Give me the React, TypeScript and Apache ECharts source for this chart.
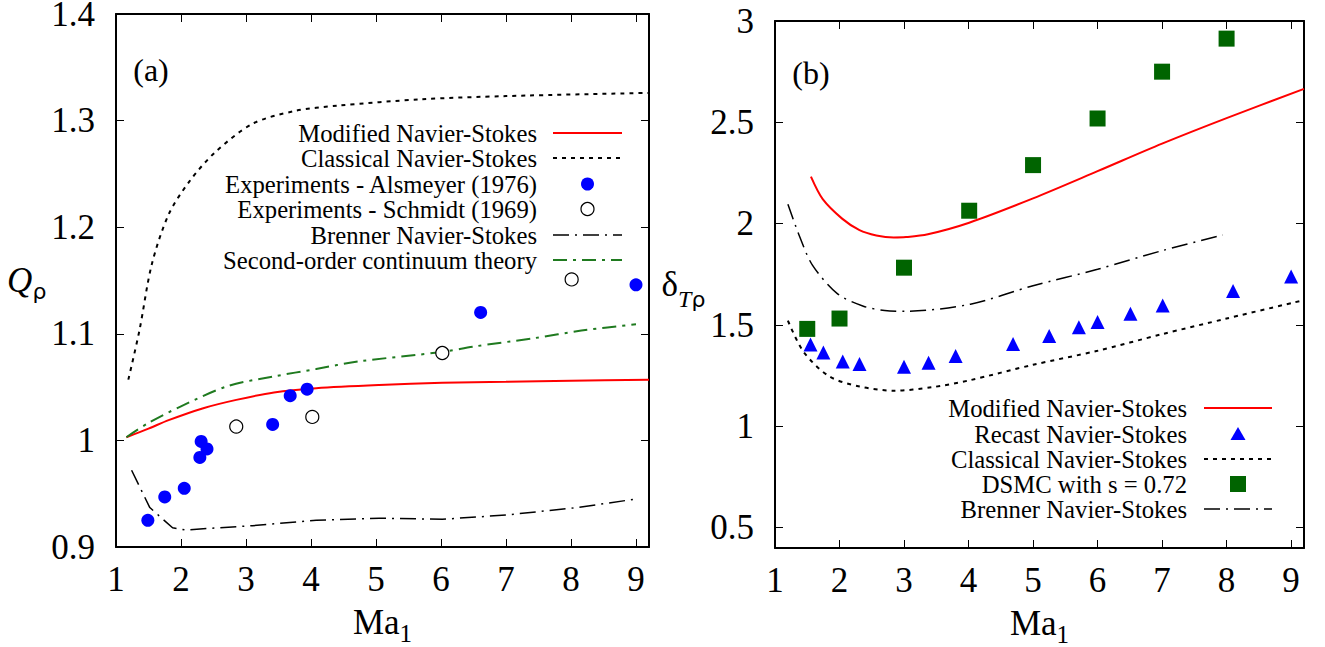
import React, { useEffect, useRef } from "react";
import * as echarts from "echarts";

// ---------- data (panel a) ----------
const xTicks = [1, 2, 3, 4, 5, 6, 7, 8, 9];
const yTicksA = [0.9, 1.0, 1.1, 1.2, 1.3, 1.4];
const yTicksB = [0.5, 1.0, 1.5, 2.0, 2.5, 3.0];

const modifiedNS_a = [[1.16, 1.003], [1.5, 1.011], [1.81, 1.019], [2.33, 1.030], [2.85, 1.038], [3.43, 1.045], [4.08, 1.049], [5.05, 1.052], [6.02, 1.054], [7.0, 1.055], [8.0, 1.056], [9.2, 1.057]];
const classicalNS_a = [[1.19, 1.057], [1.36, 1.103], [1.55, 1.165], [1.81, 1.212], [2.13, 1.243], [2.52, 1.27], [3.1, 1.297], [3.75, 1.309], [4.4, 1.314], [5.7, 1.32], [7.0, 1.323], [9.2, 1.326]];
const alsmeyer_a = [[1.49, 0.925], [1.75, 0.947], [2.05, 0.955], [2.29, 0.984], [2.31, 0.999], [2.4, 0.992], [3.41, 1.015], [3.68, 1.042], [3.94, 1.048], [6.61, 1.12], [9.0, 1.146]];
const schmidt_a = [[2.85, 1.013], [4.02, 1.022], [6.02, 1.082], [8.01, 1.151]];
const brennerNS_a = [[1.24, 0.972], [1.52, 0.937], [1.87, 0.918], [2.07, 0.916], [3.1, 0.92], [4.08, 0.925], [5.05, 0.927], [6.02, 0.926], [7.0, 0.93], [8.09, 0.937], [9.0, 0.945]];
const secondOrder_a = [[1.16, 1.003], [1.49, 1.016], [2.0, 1.032], [2.72, 1.051], [3.43, 1.06], [4.08, 1.067], [4.72, 1.074], [6.02, 1.083], [6.5, 1.088], [7.44, 1.096], [8.16, 1.103], [9.0, 1.109]];

// ---------- data (panel b) ----------
const modifiedNS_b = [[1.557, 2.232], [1.74, 2.121], [2.04, 2.025], [2.31, 1.968], [2.57, 1.942], [2.84, 1.932], [3.03, 1.934], [3.37, 1.948], [4.01, 2.005], [5.0, 2.125], [6.0, 2.259], [7.0, 2.395], [8.0, 2.521], [9.2, 2.665]];
const recastNS_b = [[1.55, 1.404], [1.75, 1.365], [2.05, 1.32], [2.31, 1.308], [3.0, 1.294], [3.38, 1.314], [3.8, 1.347], [4.69, 1.406], [5.25, 1.446], [5.71, 1.489], [6.0, 1.515], [6.51, 1.556], [7.01, 1.597], [8.1, 1.668], [9.0, 1.739]];
const classicalNS_b = [[1.2, 1.522], [1.44, 1.369], [1.84, 1.247], [2.31, 1.197], [2.84, 1.176], [3.43, 1.193], [4.01, 1.227], [5.0, 1.304], [6.0, 1.373], [7.0, 1.455], [8.0, 1.532], [9.2, 1.623]];
const dsmc_b = [[1.5, 1.481], [2.0, 1.532], [3.0, 1.783], [4.01, 2.064], [5.0, 2.289], [6.0, 2.519], [7.0, 2.75], [8.0, 2.913]];
const brennerNS_b = [[1.2, 2.096], [1.38, 1.938], [1.58, 1.796], [1.97, 1.654], [2.37, 1.593], [2.7, 1.572], [3.03, 1.568], [4.03, 1.603], [5.0, 1.694], [6.0, 1.775], [7.0, 1.867], [7.94, 1.944]];

const legendA = ["Modified Navier-Stokes", "Classical Navier-Stokes", "Experiments - Alsmeyer (1976)", "Experiments - Schmidt (1969)", "Brenner Navier-Stokes", "Second-order continuum theory"];
const legendB = ["Modified Navier-Stokes", "Recast Navier-Stokes", "Classical Navier-Stokes", "DSMC with s = 0.72", "Brenner Navier-Stokes"];

const SERIF = "Liberation Serif";
const SANS = "DejaVu Sans";
const RED = "#ff0000";
const BLUE = "#0000ff";
const DKGREEN = "#006400";
const GREENLINE = "#1f7a1f";
const DOTTED = [4, 5];
const DASHDOT = [16, 6, 2, 6];
const GREENDASH = [14, 6, 3, 6];

const fmt = (v: number) => String(Math.round(v * 10) / 10);

function xAxes(gridIndex: number) {
  const base = {
    type: "value",
    gridIndex,
    min: 1,
    max: 9.2,
    axisLine: { show: true, onZero: false, lineStyle: { color: "#000", width: 2 } },
    axisTick: { show: true, inside: true, length: 8, customValues: xTicks, lineStyle: { color: "#000", width: 1 } },
    splitLine: { show: false },
  };
  return [
    {
      ...base,
      position: "bottom",
      axisLabel: { show: true, customValues: xTicks, formatter: fmt, fontFamily: SERIF, fontSize: 35, color: "#000", margin: 15 },
      name: "{m|Ma}{s|1}",
      nameLocation: "middle",
      nameGap: 51,
      nameTextStyle: {
        rich: {
          m: { fontFamily: SERIF, fontSize: 35, color: "#000", lineHeight: 40 },
          s: { fontFamily: SERIF, fontSize: 25, color: "#000", verticalAlign: "bottom", lineHeight: 48 },
        },
      },
    },
    { ...base, position: "top", axisLabel: { show: false } },
  ];
}

function yAxes(gridIndex: number, min: number, max: number, ticks: number[], name: string, nameGap: number, rich: any) {
  const base = {
    type: "value",
    gridIndex,
    min,
    max,
    axisLine: { show: true, onZero: false, lineStyle: { color: "#000", width: 2 } },
    axisTick: { show: true, inside: true, length: 8, customValues: ticks, lineStyle: { color: "#000", width: 1 } },
    splitLine: { show: false },
  };
  return [
    {
      ...base,
      position: "left",
      axisLabel: { show: true, customValues: ticks, formatter: fmt, fontFamily: SERIF, fontSize: 35, lineHeight: 26, color: "#000", margin: 21 },
      name,
      nameLocation: "middle",
      nameRotate: 0,
      nameGap,
      nameTextStyle: { rich },
    },
    { ...base, position: "right", axisLabel: { show: false } },
  ];
}

function lineSeries(name: string, data: number[][], axis: number, color: string, width: number, type: any, smooth: boolean) {
  return {
    type: "line",
    name,
    data,
    xAxisIndex: axis * 2,
    yAxisIndex: axis * 2,
    symbol: "none",
    showSymbol: false,
    smooth: smooth ? 0.3 : false,
    lineStyle: { color, width, type },
    silent: true,
    z: 3,
  };
}

function scatterSeries(name: string, data: number[][], axis: number, symbol: string, size: number, itemStyle: any) {
  return {
    type: "scatter",
    name,
    data,
    xAxisIndex: axis * 2,
    yAxisIndex: axis * 2,
    symbol,
    symbolSize: size,
    itemStyle: { opacity: 1, ...itemStyle },
    silent: true,
    z: 4,
  };
}

function legendGraphics(names: string[], textRight: number, rows: number[], x1: number, x2: number, kinds: any[]) {
  const els: any[] = [];
  names.forEach((n, i) => {
    const y = rows[i];
    els.push({
      type: "text",
      x: textRight,
      y,
      style: { text: n, fontFamily: SERIF, fontSize: 24.7, fill: "#000", align: "right", verticalAlign: "middle" },
    });
    const k = kinds[i];
    const cx = (x1 + x2) / 2;
    if (k.kind === "line") {
      els.push({ type: "line", shape: { x1, y1: y, x2, y2: y }, style: { stroke: k.color, lineWidth: k.width, lineDash: k.dash } });
    } else if (k.kind === "dot") {
      els.push({ type: "circle", shape: { cx, cy: y, r: 6.5 }, style: { fill: BLUE } });
    } else if (k.kind === "ring") {
      els.push({ type: "circle", shape: { cx, cy: y, r: 6.5 }, style: { fill: "#fff", stroke: "#000", lineWidth: 1.2 } });
    } else if (k.kind === "tri") {
      els.push({ type: "polygon", shape: { points: [[cx, y - 7], [cx - 7.5, y + 6], [cx + 7.5, y + 6]] }, style: { fill: BLUE } });
    } else if (k.kind === "square") {
      els.push({ type: "rect", shape: { x: cx - 8, y: y - 8, width: 16, height: 16 }, style: { fill: DKGREEN } });
    }
  });
  return els;
}

export default function App() {
  const ref = useRef<HTMLDivElement>(null);
  useEffect(() => {
    if (!ref.current) return;
    const chart = echarts.init(ref.current, null, { renderer: "svg" });
    const richQ = {
      q: { fontFamily: SERIF, fontStyle: "italic", fontSize: 35, color: "#000", lineHeight: 40 },
      r: { fontFamily: SANS, fontSize: 22, color: "#000", verticalAlign: "bottom", lineHeight: 44 },
    };
    const richD = {
      d: { fontFamily: SERIF, fontSize: 35, color: "#000", lineHeight: 40 },
      t: { fontFamily: SERIF, fontStyle: "italic", fontSize: 24, color: "#000", verticalAlign: "bottom", lineHeight: 52 },
      r: { fontFamily: SANS, fontSize: 22, color: "#000", verticalAlign: "bottom", lineHeight: 52 },
    };
    const option: any = {
      animation: false,
      backgroundColor: "#fff",
      grid: [
        { left: 116, top: 14, width: 533, height: 533, outerBoundsMode: "none" },
        { left: 775, top: 21, width: 529, height: 527, outerBoundsMode: "none" },
      ],
      xAxis: [...xAxes(0), ...xAxes(1)],
      yAxis: [
        ...yAxes(0, 0.9, 1.4, yTicksA, "{q|Q}{r|ρ}", 69, richQ),
        ...yAxes(1, 0.4, 3.0, yTicksB, "{d|δ}{t|T}{r|ρ}", 64, richD),
      ],
      series: [
        lineSeries(legendA[0], modifiedNS_a, 0, RED, 2, "solid", true),
        lineSeries(legendA[1], classicalNS_a, 0, "#000", 2, DOTTED, true),
        scatterSeries(legendA[2], alsmeyer_a, 0, "circle", 13, { color: BLUE }),
        scatterSeries(legendA[3], schmidt_a, 0, "circle", 13, { color: "#fff", borderColor: "#000", borderWidth: 1.2 }),
        lineSeries(legendA[4], brennerNS_a, 0, "#000", 1.5, DASHDOT, false),
        lineSeries(legendA[5], secondOrder_a, 0, GREENLINE, 2, GREENDASH, true),

        lineSeries(legendB[0] + " ", modifiedNS_b, 1, RED, 2, "solid", true),
        scatterSeries(legendB[1], recastNS_b, 1, "triangle", 14, { color: BLUE }),
        lineSeries(legendB[2] + " ", classicalNS_b, 1, "#000", 2, DOTTED, true),
        scatterSeries(legendB[3], dsmc_b, 1, "rect", 16, { color: DKGREEN }),
        lineSeries(legendB[4] + " ", brennerNS_b, 1, "#000", 1.5, DASHDOT, true),
      ],
      graphic: [
        { type: "text", x: 151, y: 70, style: { text: "(a)", fontFamily: SERIF, fontSize: 32, fill: "#000", align: "center", verticalAlign: "middle" } },
        { type: "text", x: 811, y: 73, style: { text: "(b)", fontFamily: SERIF, fontSize: 32, fill: "#000", align: "center", verticalAlign: "middle" } },
        ...legendGraphics(legendA, 537, [133, 158, 184, 209, 235, 260], 553, 622, [
          { kind: "line", color: RED, width: 2, dash: null },
          { kind: "line", color: "#000", width: 2, dash: DOTTED },
          { kind: "dot" },
          { kind: "ring" },
          { kind: "line", color: "#000", width: 1.5, dash: DASHDOT },
          { kind: "line", color: GREENLINE, width: 2, dash: GREENDASH },
        ]),
        ...legendGraphics(legendB, 1187, [408, 434, 459, 484, 509], 1204, 1272, [
          { kind: "line", color: RED, width: 2, dash: null },
          { kind: "tri" },
          { kind: "line", color: "#000", width: 2, dash: DOTTED },
          { kind: "square" },
          { kind: "line", color: "#000", width: 1.5, dash: DASHDOT },
        ]),
      ],
    };
    chart.setOption(option);
    return () => chart.dispose();
  }, []);
  return <div ref={ref} style={{ position: "fixed", left: 0, top: 0, width: 1325, height: 647 }} />;
}
